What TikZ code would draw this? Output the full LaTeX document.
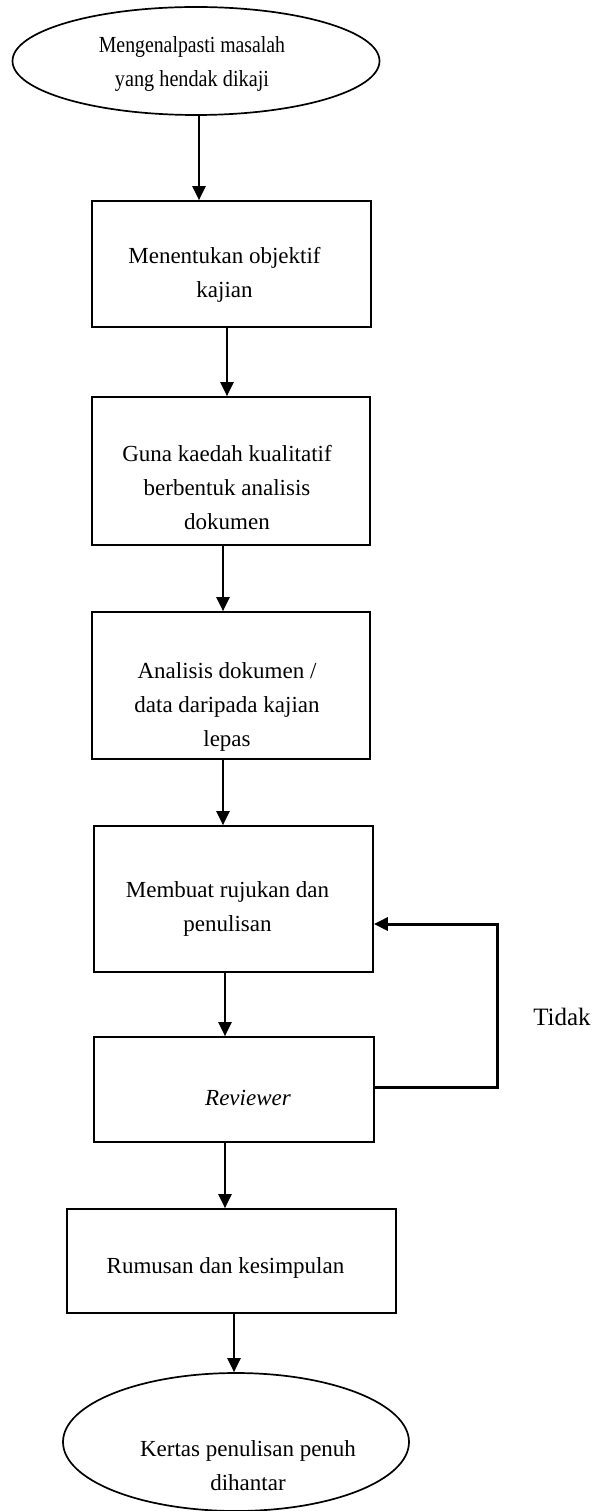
\documentclass[tikz,border=0pt]{standalone}
\usepackage{fontspec}
\setmainfont{Liberation Serif}
\usetikzlibrary{shapes.geometric,arrows.meta}
\begin{document}
\begin{tikzpicture}[x=1pt,y=-1pt,
  box/.style={draw, line width=1.7pt, rectangle, inner sep=0pt},
  oval/.style={draw, line width=1.7pt, ellipse, inner sep=0pt},
  txt/.style={align=center, inner sep=0pt, font=\fontsize{23}{34}\selectfont},
  arr/.style={-{Triangle[width=13pt,length=14pt]}, line width=2.2pt},
  looparr/.style={-{Triangle[width=13pt,length=14pt]}, line width=3pt}]
\useasboundingbox (0,0) rectangle (595,1511);

\node[oval, minimum width=367pt, minimum height=108pt,
  label={[txt, xshift=-4pt, yshift=-3pt]center:{\scalebox{0.86}[1]{Mengenalpasti masalah}\\\scalebox{0.88}[1]{yang hendak dikaji}}}] (e1) at (196,61) {};
\node[box, minimum width=279pt, minimum height=126pt,
  label={[txt, xshift=-7pt, yshift=-11pt]center:{Menentukan objektif\\kajian}}] (b1) at (231.5,264) {};
\node[box, minimum width=278pt, minimum height=148pt,
  label={[txt, xshift=-4pt, yshift=-17pt]center:{Guna kaedah kualitatif\\berbentuk analisis\\dokumen}}] (b2) at (231,471) {};
\node[box, minimum width=278pt, minimum height=147pt,
  label={[txt, xshift=-4pt, yshift=-21pt]center:{Analisis dokumen /\\data daripada kajian\\lepas}}] (b3) at (231,685.5) {};
\node[box, minimum width=279pt, minimum height=146pt,
  label={[txt, xshift=-6pt, yshift=-10pt]center:{Membuat rujukan dan\\penulisan}}] (b4) at (233.5,899) {};
\node[box, minimum width=280pt, minimum height=105pt,
  label={[txt, xshift=14pt, yshift=-8pt]center:{\itshape Reviewer}}] (b5) at (234,1089.5) {};
\node[box, minimum width=329pt, minimum height=104pt,
  label={[txt, xshift=-6pt, yshift=-7pt]center:{Rumusan dan kesimpulan}}] (b6) at (231.5,1261) {};
\node[oval, minimum width=346pt, minimum height=138pt,
  label={[txt, xshift=12pt, yshift=-24pt]center:{Kertas penulisan penuh\\dihantar}}] (e2) at (236,1442) {};
\node[txt, font=\fontsize{25}{30}\selectfont] (tidak) at (562,1017) {Tidak};

\coordinate (c1) at (199,0);
\coordinate (c2) at (227,0);
\coordinate (c3) at (223,0);
\coordinate (c5) at (225,0);
\coordinate (c7) at (234,0);
\coordinate (lr) at (497,1087);
\coordinate (ly) at (0,924);

\draw[arr] (e1.south -| c1) -- (b1.north -| c1);
\draw[arr] (b1.south -| c2) -- (b2.north -| c2);
\draw[arr] (b2.south -| c3) -- (b3.north -| c3);
\draw[arr] (b3.south -| c3) -- (b4.north -| c3);
\draw[arr] (b4.south -| c5) -- (b5.north -| c5);
\draw[arr] (b5.south -| c5) -- (b6.north -| c5);
\draw[arr] (b6.south -| c7) -- (e2.north -| c7);
\draw[looparr] (b5.east |- lr) -- (lr) |- (b4.east |- ly);
\end{tikzpicture}
\end{document}
